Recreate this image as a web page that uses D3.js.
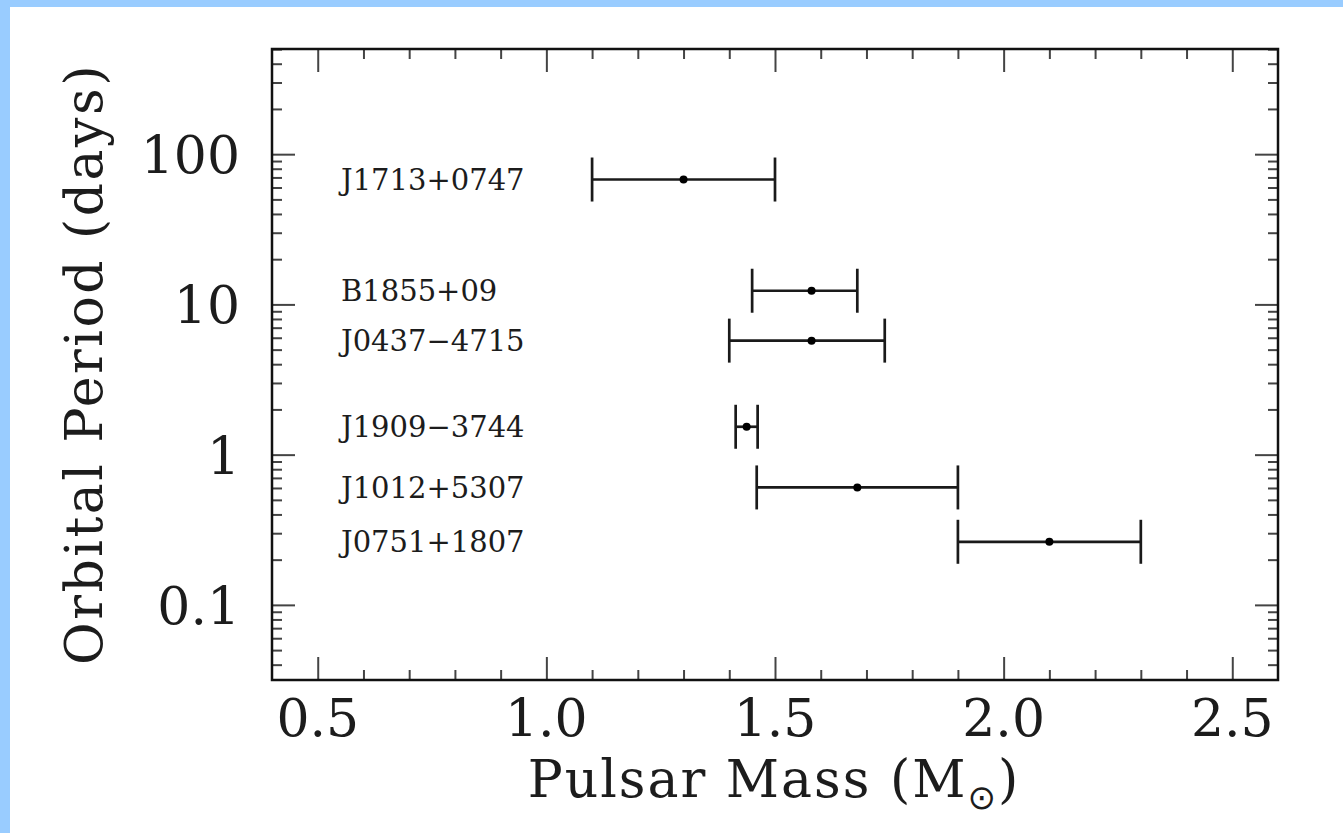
<!DOCTYPE html>
<html>
<head>
<meta charset="utf-8">
<script src="https://cdn.jsdelivr.net/npm/d3@7"></script>
<style>
  html, body { margin: 0; padding: 0; background: #fff; }
  svg { display: block; }
</style>
</head>
<body>
<svg id="chart" width="1343" height="833"></svg>
<script>
// Pulsar masses against binary orbital period
const pulsars  = ["J1713+0747", "B1855+09", "J0437\u22124715", "J1909\u22123744", "J1012+5307", "J0751+1807"];
const period   = [67.8, 12.33, 5.74, 1.533, 0.605, 0.263];     // days
const mass     = [1.30, 1.58, 1.58, 1.438, 1.68, 2.10];        // solar masses
const massLow  = [1.10, 1.45, 1.40, 1.414, 1.46, 1.90];
const massHigh = [1.50, 1.68, 1.74, 1.462, 1.90, 2.30];

const xTickValues = [0.5, 1.0, 1.5, 2.0, 2.5];
const xTickLabels = ["0.5", "1.0", "1.5", "2.0", "2.5"];
const yTickValues = [0.1, 1, 10, 100];
const yTickLabels = ["0.1", "1", "10", "100"];

const xTitle = "Pulsar Mass (M";
const xTitleSub = "\u2299";
const yTitle = "Orbital Period (days)";

const svg = d3.select("#chart");
const W = 1343, H = 833;
const plot = { left: 272, right: 1278, top: 49, bottom: 680 };

const serif = "'DejaVu Serif', 'Liberation Serif', serif";
const textColor = "#1c1c1c";

// page background and the light blue edge strips
svg.append("rect").attr("width", W).attr("height", H).attr("fill", "#fff");
svg.append("rect").attr("x", 0).attr("y", 0).attr("width", W).attr("height", 7).attr("fill", "#99ccff");
svg.append("rect").attr("x", 0).attr("y", 0).attr("width", 10).attr("height", H).attr("fill", "#99ccff");

const x = d3.scaleLinear().domain([0.4, 2.6]).range([plot.left, plot.right]);
const y = d3.scaleLog().domain([Math.pow(10, -1.5), Math.pow(10, 2.7)]).range([plot.bottom, plot.top]);

const xMinor = d3.range(5, 26).map(d => d / 10).filter(d => !xTickValues.some(v => Math.abs(v - d) < 1e-9));
const yMinor = y.ticks().filter(d => !yTickValues.some(v => Math.abs(Math.log10(v) - Math.log10(d)) < 1e-9));

const MAJOR = 23, MINOR = 10;
const tickColor = "#444";

function styleTicks(g) {
  g.select(".domain").remove();
  g.selectAll(".tick line").attr("stroke", tickColor).attr("stroke-width", 2);
  g.selectAll(".tick text").remove();
}

// inward ticks on all four sides
const axes = svg.append("g");
axes.append("g").attr("transform", `translate(0,${plot.bottom})`)
  .call(d3.axisBottom(x).tickValues(xMinor).tickSize(-MINOR)).call(styleTicks);
axes.append("g").attr("transform", `translate(0,${plot.bottom})`)
  .call(d3.axisBottom(x).tickValues(xTickValues).tickSize(-MAJOR)).call(styleTicks);
axes.append("g").attr("transform", `translate(0,${plot.top})`)
  .call(d3.axisTop(x).tickValues(xMinor).tickSize(-MINOR)).call(styleTicks);
axes.append("g").attr("transform", `translate(0,${plot.top})`)
  .call(d3.axisTop(x).tickValues(xTickValues).tickSize(-MAJOR)).call(styleTicks);
axes.append("g").attr("transform", `translate(${plot.left},0)`)
  .call(d3.axisLeft(y).tickValues(yMinor).tickSize(-MINOR)).call(styleTicks);
axes.append("g").attr("transform", `translate(${plot.left},0)`)
  .call(d3.axisLeft(y).tickValues(yTickValues).tickSize(-MAJOR)).call(styleTicks);
axes.append("g").attr("transform", `translate(${plot.right},0)`)
  .call(d3.axisRight(y).tickValues(yMinor).tickSize(-MINOR)).call(styleTicks);
axes.append("g").attr("transform", `translate(${plot.right},0)`)
  .call(d3.axisRight(y).tickValues(yTickValues).tickSize(-MAJOR)).call(styleTicks);

// frame
svg.append("rect")
  .attr("x", plot.left).attr("y", plot.top)
  .attr("width", plot.right - plot.left).attr("height", plot.bottom - plot.top)
  .attr("fill", "none").attr("stroke", "#111").attr("stroke-width", 2.5);

// tick labels
svg.append("g").selectAll("text").data(xTickValues).join("text")
  .attr("x", d => x(d)).attr("y", 736)
  .attr("text-anchor", "middle")
  .attr("font-family", serif).attr("font-size", 52).attr("fill", textColor)
  .text((d, i) => xTickLabels[i]);

svg.append("g").selectAll("text").data(yTickValues).join("text")
  .attr("x", 240).attr("y", d => y(d)).attr("dy", "0.365em")
  .attr("text-anchor", "end")
  .attr("font-family", serif).attr("font-size", 52).attr("fill", textColor)
  .text((d, i) => yTickLabels[i]);

// axis titles
const xt = svg.append("text")
  .attr("x", 774).attr("y", 797)
  .attr("text-anchor", "middle")
  .attr("font-family", serif).attr("font-size", 52).attr("fill", textColor)
  .attr("letter-spacing", 2);
xt.append("tspan").text(xTitle);
xt.append("tspan").attr("font-size", 34).attr("dy", 12).attr("font-family", "'DejaVu Sans', sans-serif").text(xTitleSub);
xt.append("tspan").attr("dy", -12).text(")");

svg.append("text")
  .attr("transform", "translate(102,364) rotate(-90)")
  .attr("text-anchor", "middle")
  .attr("font-family", serif).attr("font-size", 52).attr("fill", textColor)
  .attr("letter-spacing", 2.5)
  .text(yTitle);

// error bars, points and names
const rows = pulsars.map((name, i) => ({ name, p: period[i], m: mass[i], lo: massLow[i], hi: massHigh[i] }));
const CAP = 22;
const barColor = "#1a1a1a";
const barWidth = 2.7;

const g = svg.append("g");
const row = g.selectAll("g.row").data(rows).join("g").attr("class", "row");

row.append("line")
  .attr("x1", d => x(d.lo)).attr("x2", d => x(d.hi))
  .attr("y1", d => y(d.p)).attr("y2", d => y(d.p))
  .attr("stroke", barColor).attr("stroke-width", barWidth);
row.append("line")
  .attr("x1", d => x(d.lo)).attr("x2", d => x(d.lo))
  .attr("y1", d => y(d.p) - CAP).attr("y2", d => y(d.p) + CAP)
  .attr("stroke", barColor).attr("stroke-width", barWidth);
row.append("line")
  .attr("x1", d => x(d.hi)).attr("x2", d => x(d.hi))
  .attr("y1", d => y(d.p) - CAP).attr("y2", d => y(d.p) + CAP)
  .attr("stroke", barColor).attr("stroke-width", barWidth);
row.append("circle")
  .attr("cx", d => x(d.m)).attr("cy", d => y(d.p)).attr("r", 4)
  .attr("fill", "#000");
row.append("text")
  .attr("x", 341).attr("y", d => y(d.p)).attr("dy", "0.365em")
  .attr("font-family", serif).attr("font-size", 29).attr("fill", textColor)
  .text(d => d.name);
</script>
</body>
</html>
